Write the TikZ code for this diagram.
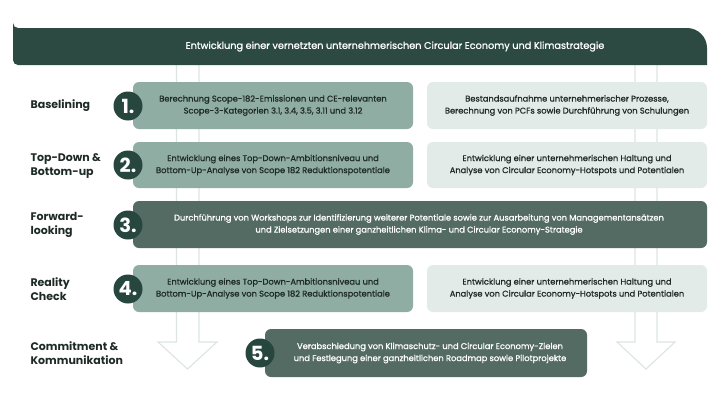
\documentclass[tikz,border=0pt]{standalone}
\usepackage{fontspec}
\setmainfont{Poppins}
\newfontfamily\medfont[FakeBold=0.9]{Poppins}
\definecolor{bannerc}{HTML}{2C4A42}
\definecolor{circc}{HTML}{27463D}
\definecolor{midc}{HTML}{8FADA3}
\definecolor{lightc}{HTML}{E3EBE8}
\definecolor{darkc}{HTML}{546B63}
\definecolor{arrowc}{HTML}{DCE5E2}
\definecolor{txtc}{HTML}{1E2A26}
\begin{document}
\begin{tikzpicture}[x=1pt,y=-1pt,
  boxtxt/.style={font=\medfont\fontsize{8.3}{12}\selectfont, align=center, text=txtc},
  midbox/.style={fill=midc, rounded corners=6pt},
  lightbox/.style={fill=lightc, rounded corners=6pt},
  darkbox/.style={fill=darkc, rounded corners=6pt},
  numc/.style={circle, fill=circc, minimum size=29pt, inner sep=0pt, text=white, font=\fontsize{19.5}{19.5}\selectfont\bfseries},
  rowlabel/.style={anchor=west, align=left, font=\fontsize{11}{13.5}\selectfont\bfseries, text=txtc},
  bigarrow/.style={draw=arrowc, line width=1.1pt, fill=white, line join=miter}
]
\useasboundingbox[fill=white] (0,0) rectangle (720,405);
% arrows
\draw[bigarrow] (176.5,65) -- (176.5,342) -- (158,342) -- (187.5,369) -- (217,342) -- (199,342) -- (199,65);
\draw[bigarrow] (635,65) -- (635,342) -- (617,342) -- (646,369) -- (675,342) -- (657,342) -- (657,65);
% banner
\fill[bannerc] (13,33) -- (13,60) arc[start angle=180,end angle=90,radius=5] -- (707,65) -- (707,48) arc[start angle=0,end angle=-90,radius=20] -- (18,28) arc[start angle=90,end angle=180,radius=5] -- cycle;
\node[text=white, font=\medfont\fontsize{9.7}{12}\selectfont] (title) at (395,46.5) {Entwicklung einer vernetzten unternehmerischen Circular Economy und Klimastrategie};
% row 1
\fill[midbox] (133,82) rectangle (413,129);
\node[boxtxt] (b1) at (273,105.5) {Berechnung Scope-182-Emissionen und CE-relevanten\\Scope-3-Kategorien 3.1, 3.4, 3.5, 3.11 und 3.12};
\fill[lightbox] (427,82) rectangle (707,129);
\node[boxtxt] (r1) at (567,105.5) {Bestandsaufnahme unternehmerischer Prozesse,\\Berechnung von PCFs sowie Durchführung von Schulungen};
% row 2
\fill[midbox] (133,142) rectangle (413,188);
\node[boxtxt] (b2) at (273,165) {Entwicklung eines Top-Down-Ambitionsniveau und\\Bottom-Up-Analyse von Scope 182 Reduktionspotentiale};
\fill[lightbox] (427,142) rectangle (707,188);
\node[boxtxt] (r2) at (567,165) {Entwicklung einer unternehmerischen Haltung und\\Analyse von Circular Economy-Hotspots und Potentialen};
% row 3
\fill[darkbox] (133,201) rectangle (707,248);
\node[boxtxt, text=white] (b3) at (419,224.5) {Durchführung von Workshops zur Identifizierung weiterer Potentiale sowie zur Ausarbeitung von Managementansätzen\\und Zielsetzungen einer ganzheitlichen Klima- und Circular Economy-Strategie};
% row 4
\fill[midbox] (133,265) rectangle (413,312);
\node[boxtxt] (b4) at (273,288.5) {Entwicklung eines Top-Down-Ambitionsniveau und\\Bottom-Up-Analyse von Scope 182 Reduktionspotentiale};
\fill[lightbox] (427,265) rectangle (707,312);
\node[boxtxt] (r4) at (567,288.5) {Entwicklung einer unternehmerischen Haltung und\\Analyse von Circular Economy-Hotspots und Potentialen};
% row 5
\fill[darkbox] (265,329) rectangle (587,377);
\node[boxtxt, text=white] (b5) at (430,353) {Verabschiedung von Klimaschutz- und Circular Economy-Zielen\\und Festlegung einer ganzheitlichen Roadmap sowie Pilotprojekte};
% circles
\node[numc] (n1) at (128,106) {1.};
\node[numc] (n2) at (128,165) {2.};
\node[numc] (n3) at (128,225) {3.};
\node[numc] (n4) at (128,289) {4.};
\node[numc] (n5) at (260,353) {5.};
% labels
\node[rowlabel] (l1) at (27,106) {Baselining};
\node[rowlabel] (l2) at (27,166) {Top-Down \&\\Bottom-up};
\node[rowlabel] (l3) at (27,225) {Forward-\\looking};
\node[rowlabel] (l4) at (27,289) {Reality\\Check};
\node[rowlabel] (l5) at (27,353) {Commitment \&\\Kommunikation};
\end{tikzpicture}
\end{document}
